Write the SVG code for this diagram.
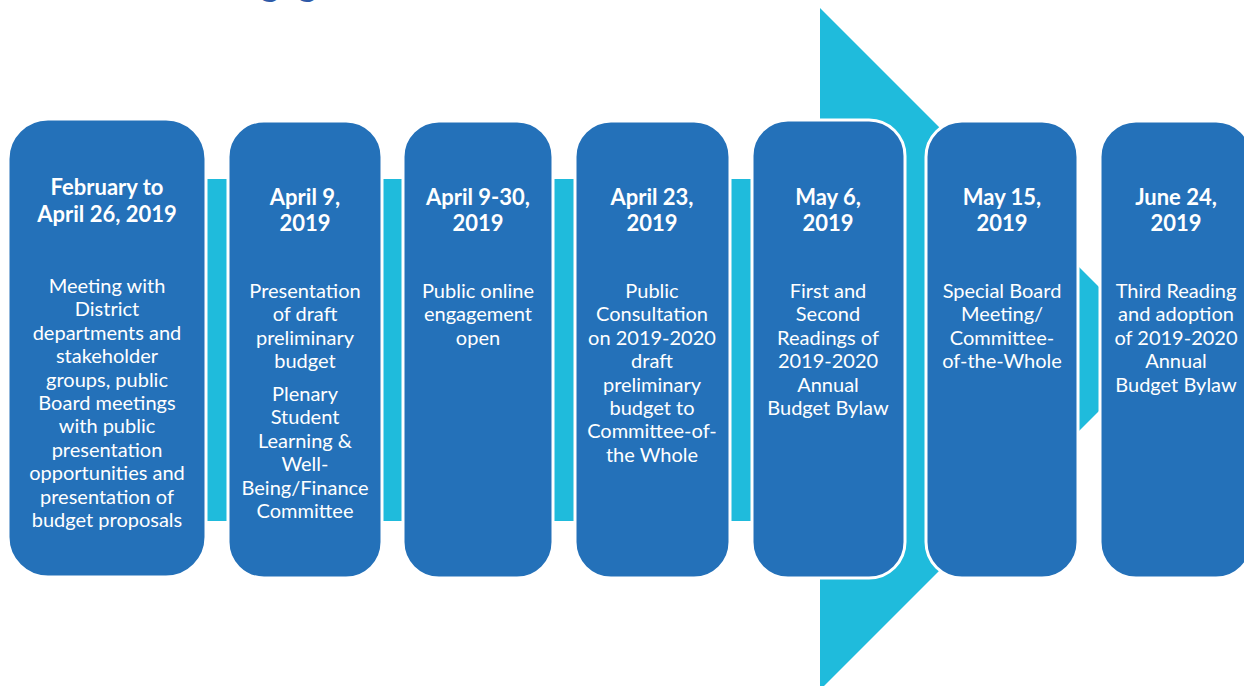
<svg xmlns="http://www.w3.org/2000/svg" width="1244" height="686" viewBox="0 0 1244 686">
  <style>
    .box { fill: #2471B9; stroke: #FFFFFF; stroke-width: 3; }
    .arrow { fill: #1FBBDC; }
    .date { font-family: Lato, "Liberation Sans", sans-serif; font-weight: bold; font-size: 22px; fill: #FFFFFF; text-anchor: middle; }
    .body { font-family: Lato, "Liberation Sans", sans-serif; font-size: 20px; fill: #FFFFFF; text-anchor: middle; }
    .title { font-family: Lato, "Liberation Sans", sans-serif; font-weight: bold; font-size: 36px; fill: #2E5AA8; }
  </style>
  <rect width="1244" height="686" fill="#FFFFFF"/>
  <text class="title" x="220" y="-4.5">Engagement</text>

  <g id="connectors">
    <polygon class="arrow" points="10,179 820,179 820,8 1161,349 820,690 820,521 10,521"/>
  </g>

  <g id="node1">
    <rect class="box" x="8" y="119" width="198" height="458" rx="40" ry="40"/>
    <text class="date" x="107" y="195">February to</text>
    <text class="date" x="107" y="222">April 26, 2019</text>
    <text class="body" x="107" y="293">Meeting with</text>
    <text class="body" x="107" y="316.4">District</text>
    <text class="body" x="107" y="339.8">departments and</text>
    <text class="body" x="107" y="363.2">stakeholder</text>
    <text class="body" x="107" y="386.6">groups, public</text>
    <text class="body" x="107" y="410">Board meetings</text>
    <text class="body" x="107" y="433.4">with public</text>
    <text class="body" x="107" y="456.8">presentation</text>
    <text class="body" x="107" y="480.2">opportunities and</text>
    <text class="body" x="107" y="503.6">presentation of</text>
    <text class="body" x="107" y="527">budget proposals</text>
  </g>

  <g id="node2">
    <rect class="box" x="228" y="121" width="154" height="457" rx="36" ry="36"/>
    <text class="date" x="305" y="205">April 9,</text>
    <text class="date" x="305" y="231">2019</text>
    <text class="body" x="305" y="298">Presentation</text>
    <text class="body" x="305" y="321.4">of draft</text>
    <text class="body" x="305" y="344.8">preliminary</text>
    <text class="body" x="305" y="368.2">budget</text>
    <text class="body" x="305" y="401">Plenary</text>
    <text class="body" x="305" y="424.4">Student</text>
    <text class="body" x="305" y="447.8">Learning &amp;</text>
    <text class="body" x="305" y="471.2">Well-</text>
    <text class="body" x="305" y="494.6">Being/Finance</text>
    <text class="body" x="305" y="518">Committee</text>
  </g>

  <g id="node3">
    <rect class="box" x="403" y="121" width="150" height="457" rx="36" ry="36"/>
    <text class="date" x="478" y="205">April 9-30,</text>
    <text class="date" x="478" y="231">2019</text>
    <text class="body" x="478" y="298">Public online</text>
    <text class="body" x="478" y="321.4">engagement</text>
    <text class="body" x="478" y="344.8">open</text>
  </g>

  <g id="node4">
    <rect class="box" x="575" y="121" width="155" height="457" rx="36" ry="36"/>
    <text class="date" x="652" y="205">April 23,</text>
    <text class="date" x="652" y="231">2019</text>
    <text class="body" x="652" y="298">Public</text>
    <text class="body" x="652" y="321.4">Consultation</text>
    <text class="body" x="652" y="344.8">on 2019-2020</text>
    <text class="body" x="652" y="368.2">draft</text>
    <text class="body" x="652" y="391.6">preliminary</text>
    <text class="body" x="652" y="415">budget to</text>
    <text class="body" x="652" y="438.4">Committee-of-</text>
    <text class="body" x="652" y="461.8">the Whole</text>
  </g>

  <g id="node5">
    <rect class="box" x="752" y="120" width="153" height="458" rx="36" ry="36"/>
    <text class="date" x="828" y="205">May 6,</text>
    <text class="date" x="828" y="231">2019</text>
    <text class="body" x="828" y="298">First and</text>
    <text class="body" x="828" y="321.4">Second</text>
    <text class="body" x="828" y="344.8">Readings of</text>
    <text class="body" x="828" y="368.2">2019-2020</text>
    <text class="body" x="828" y="391.6">Annual</text>
    <text class="body" x="828" y="415">Budget Bylaw</text>
  </g>

  <g id="node6">
    <rect class="box" x="926" y="121" width="152" height="457" rx="36" ry="36"/>
    <text class="date" x="1002" y="205">May 15,</text>
    <text class="date" x="1002" y="231">2019</text>
    <text class="body" x="1002" y="298">Special Board</text>
    <text class="body" x="1002" y="321.4">Meeting/</text>
    <text class="body" x="1002" y="344.8">Committee-</text>
    <text class="body" x="1002" y="368.2">of-the-Whole</text>
  </g>

  <g id="node7">
    <rect class="box" x="1100" y="121" width="152" height="457" rx="36" ry="36"/>
    <text class="date" x="1176" y="205">June 24,</text>
    <text class="date" x="1176" y="231">2019</text>
    <text class="body" x="1176" y="298">Third Reading</text>
    <text class="body" x="1176" y="321.4">and adoption</text>
    <text class="body" x="1176" y="344.8">of 2019-2020</text>
    <text class="body" x="1176" y="368.2">Annual</text>
    <text class="body" x="1176" y="391.6">Budget Bylaw</text>
  </g>
</svg>
